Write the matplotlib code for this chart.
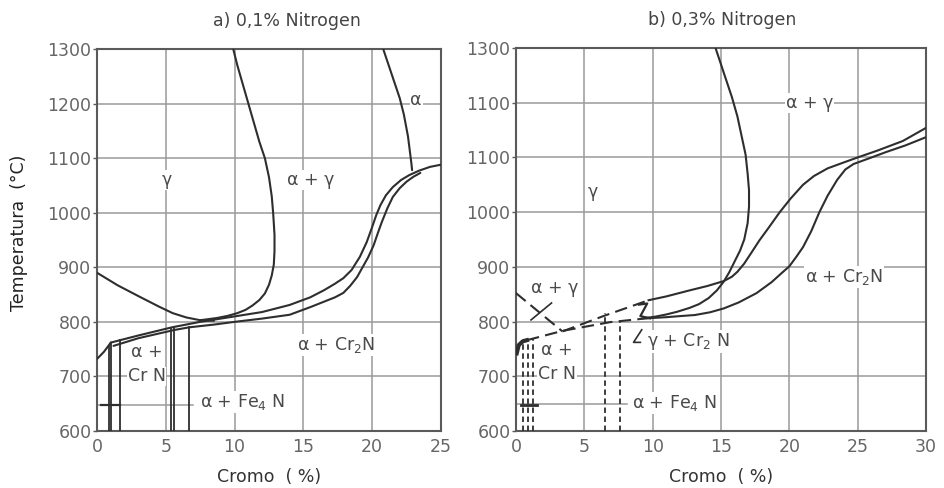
import matplotlib
matplotlib.use("Agg")
import matplotlib.pyplot as plt

plt.rcParams['font.family'] = ['DejaVu Sans']

# ---- a) 0,1 % N ----
a_gamma_cr = [9.9, 10.2, 10.6, 11.0, 11.4, 11.8, 12.2, 12.5, 12.7, 12.8, 12.9, 12.9, 12.85, 12.7, 12.5,
              12.2, 11.8, 11.3, 10.8, 10.2, 9.5, 8.7, 7.5]
a_gamma_t = [1300, 1270, 1235, 1200, 1165, 1130, 1100, 1065, 1030, 1000, 960, 930, 905, 885, 868,
             852, 840, 830, 822, 816, 811, 807, 803]
a_alpha_cr = [20.8, 21.2, 21.6, 22.0, 22.3, 22.6, 22.75, 22.85, 22.9]
a_alpha_t = [1300, 1270, 1240, 1210, 1180, 1140, 1110, 1090, 1078]
a_left_cr = [0, 1.5, 3.1, 4.5, 5.5, 6.5, 7.5, 8.5]
a_left_t = [890, 867, 846, 828, 816, 808, 803, 802]
a_up_cr = [1.0, 3.0, 5.45, 7.5, 10, 12, 14, 15.5, 16.5, 17.3, 17.9, 18.5, 19.1, 19.6, 20.0, 20.3,
           20.6, 21.0, 21.5, 22.1, 22.7, 23.4, 24.2, 25]
a_up_t = [762, 775, 790, 800, 810, 818, 831, 845, 858, 870, 880, 895, 919, 946, 974, 996,
          1014, 1032, 1047, 1060, 1069, 1077, 1084, 1088]
a_lo_cr = [1.2, 3.0, 5.6, 6.7, 8.5, 10, 12, 14, 15.5, 16.5, 17.3, 17.9, 18.4, 18.9, 19.3, 19.7,
           20.1, 20.4, 20.7, 21.1, 21.5, 22.0, 22.5, 23.0, 23.5]
a_lo_t = [756, 770, 785, 790, 795, 800, 806, 813, 827, 837, 845, 853, 866, 882, 900, 918,
          940, 962, 983, 1008, 1029, 1045, 1057, 1066, 1073]
a_corner_cr = [0, 0.5, 0.8, 1.0]
a_corner_t = [732, 745, 755, 762]
a_vert_cr = [0.85, 1.05, 1.7, 5.4, 5.6, 6.7]
a_vert_top = [756, 762, 766, 789, 788, 790]
a_yticks = [600, 700, 800, 900, 1000, 1100, 1200, 1300]
a_xticks = [0, 5, 10, 15, 20, 25]

# ---- b) 0,3 % N ----
b_gamma_cr = [14.6, 15.0, 15.4, 15.8, 16.2, 16.5, 16.8, 16.95, 17.05, 17.05, 16.95, 16.7, 16.4, 16.0,
              15.6, 15.2, 14.7, 14.1, 13.4, 12.7, 11.8, 11.0, 10.2, 9.3]
b_gamma_t = [1300, 1270, 1240, 1210, 1175, 1140, 1105, 1070, 1040, 1010, 980, 950, 930, 910,
             890, 873, 857, 843, 832, 825, 818, 813, 809, 806]
b_up_dash_cr = [3.4, 6.5, 9.7]
b_up_dash_t = [782, 811, 839]
b_up_cr = [9.7, 11.0, 12.7, 14.0, 15.2, 15.8, 16.2, 16.7, 17.2, 17.8, 18.5, 19.3, 20.1, 21.0, 21.8,
           22.8, 24.0, 25.0, 26.5, 28.3, 30]
b_up_t = [839, 846, 857, 865, 874, 882, 891, 906, 925, 948, 972, 1000, 1025, 1050, 1066,
          1080, 1091, 1100, 1113, 1130, 1154]
b_lo_dash_cr = [0.8, 3.4, 6.9, 9.6]
b_lo_dash_t = [766, 783, 799, 806]
b_lo_cr = [9.6, 11.0, 12.0, 13.1, 14.2, 15.2, 16.3, 17.6, 18.7, 19.5, 20.0, 20.5, 21.0, 21.6, 22.2,
           22.8, 23.5, 24.1, 24.7, 25.8, 27.1, 28.5, 30]
b_lo_t = [806, 808, 810, 812, 817, 824, 835, 852, 872, 890, 901, 918, 936, 965, 1000,
          1030, 1059, 1078, 1088, 1098, 1110, 1122, 1137]
b_diag_cr = [0, 3.4]
b_diag_t = [852, 782]
b_corner_cr = [0.05, 0.2, 0.5, 0.8]
b_corner_t = [742, 757, 764, 766]
b_vert_cr = [0.5, 0.85, 1.25, 6.5, 7.6]
b_vert_top = [764, 766, 768, 815, 800]
b_yticks = [600, 700, 800, 900, 1000, 1100, 1200, 1300]
b_ytick_labels = ['600', '700', '800', '900', '1000', '1100', '1100', '1300']
b_xticks = [0, 5, 10, 15, 20, 25, 30]

LINE = '#2e2e2e'
GRID = '#9a9a9a'
TXT = '#4a4a4a'
LW = 1.5

fig = plt.figure(figsize=(9.44, 4.88), dpi=100)
ax1 = fig.add_axes([97 / 944, 57 / 488, 344 / 944, 382 / 488])
ax2 = fig.add_axes([516 / 944, 57 / 488, 410 / 944, 383 / 488])


def frame(ax, xmax, xticks, yticks):
    ax.set_xlim(0, xmax)
    ax.set_ylim(600, 1300)
    ax.set_xticks(xticks)
    ax.set_yticks(yticks)
    for v in xticks[1:-1]:
        ax.axvline(v, color=GRID, lw=1.1, zorder=0)
    for v in yticks[1:-1]:
        ax.axhline(v, color=GRID, lw=1.1, zorder=0)
    for s in ax.spines.values():
        s.set_color('#5a5a5a')
        s.set_linewidth(1.5)
    ax.tick_params(axis='y', length=3, width=1, color='#5a5a5a', pad=1, labelsize=12.5, labelcolor='#666666')
    ax.tick_params(axis='x', length=0, pad=5, labelsize=12.5, labelcolor='#666666')
    ax.set_xlabel('Cromo  ( %)', fontsize=12.5, color='#333333', labelpad=9)


def label(ax, x, y, s, **kw):
    ax.text(x, y, s, fontsize=12.5, color=TXT, ha='center', va='center', zorder=3,
            bbox=dict(facecolor='white', edgecolor='none', pad=0.6), **kw)


# ---- panel a ----
frame(ax1, 25, a_xticks, a_yticks)
ax1.set_ylabel('Temperatura  (°C)', fontsize=12.5, color='#222222')
ax1.yaxis.set_label_coords(-0.2, 0.52)
for cr, t in [(a_gamma_cr, a_gamma_t), (a_alpha_cr, a_alpha_t), (a_left_cr, a_left_t),
              (a_up_cr, a_up_t), (a_lo_cr, a_lo_t), (a_corner_cr, a_corner_t)]:
    ax1.plot(cr, t, color=LINE, lw=LW, zorder=4, solid_capstyle='round')
for x, top in zip(a_vert_cr, a_vert_top):
    ax1.plot([x, x], [600, top], color=LINE, lw=1.3, zorder=4)
ax1.plot([0, 7.0], [647, 647], color=GRID, lw=1.1, zorder=1)
ax1.plot([0.3, 1.7], [647, 647], color=LINE, lw=1.6, zorder=4)

label(ax1, 5.1, 1060, 'γ')
label(ax1, 15.5, 1060, 'α + γ')
label(ax1, 23.2, 1207, 'α')
label(ax1, 17.4, 757, 'α + Cr$_2$N')
label(ax1, 3.6, 745, 'α +')
label(ax1, 3.6, 700, 'Cr N')
label(ax1, 10.6, 653, 'α + Fe$_4$ N')

# ---- panel b ----
frame(ax2, 30, b_xticks, b_yticks)
ax2.set_yticklabels(b_ytick_labels)
for cr, t in [(b_gamma_cr, b_gamma_t), (b_up_cr, b_up_t), (b_lo_cr, b_lo_t)]:
    ax2.plot(cr, t, color=LINE, lw=LW, zorder=4)
for cr, t in [(b_up_dash_cr, b_up_dash_t), (b_lo_dash_cr, b_lo_dash_t), (b_diag_cr, b_diag_t)]:
    ax2.plot(cr, t, color=LINE, lw=LW, ls=(0, (6, 3)), zorder=4)
ax2.plot(b_corner_cr, b_corner_t, color=LINE, lw=3, zorder=4)
for x, top in zip(b_vert_cr, b_vert_top):
    ax2.plot([x, x], [600, top], color=LINE, lw=1.3, ls=(0, (3, 2)), zorder=4)
ax2.plot([0, 8.1], [650, 650], color=GRID, lw=1.1, zorder=1)
ax2.plot([0.4, 1.5], [647, 647], color=LINE, lw=2, zorder=4)
# leader for the small alpha+gamma field
ax2.plot([1.1, 2.6], [803, 834], color=LINE, lw=1.2, zorder=4)
# small brackets along the 800 °C line
ax2.plot([9.0, 9.6, 9.1, 9.8], [831, 833, 810, 806], color=LINE, lw=1.6, zorder=4)
ax2.plot([9.2, 8.6, 9.1], [785, 762, 762], color=LINE, lw=1.2, zorder=4)

label(ax2, 5.6, 1037, 'γ')
label(ax2, 21.5, 1200, 'α + γ')
label(ax2, 24.0, 882, 'α + Cr$_2$N')
label(ax2, 2.8, 862, 'α + γ')
label(ax2, 3.0, 748, 'α +')
label(ax2, 3.0, 704, 'Cr N')
label(ax2, 12.6, 764, 'γ + Cr$_2$ N')
label(ax2, 11.6, 651, 'α + Fe$_4$ N')

fig.text(287 / 944, 1 - 21 / 488, 'a) 0,1% Nitrogen', ha='center', va='center', fontsize=12.5, color='#444444')
fig.text(722 / 944, 1 - 20 / 488, 'b) 0,3% Nitrogen', ha='center', va='center', fontsize=12.5, color='#444444')

fig.savefig('out.png', dpi=100, facecolor='white')
